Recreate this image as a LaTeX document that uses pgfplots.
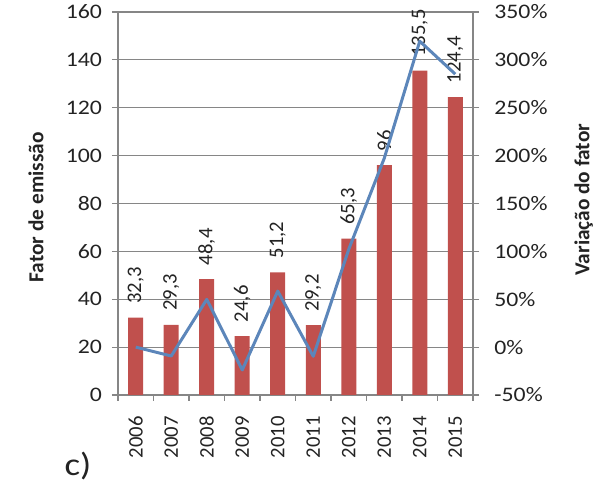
\documentclass[border=0pt]{standalone}
\usepackage{fontspec}
\setmainfont{Carlito}[FakeStretch=1.15]
\newfontfamily\rotfont{Carlito}
\usepackage{pgfplots}
\usepackage{pgfplotstable}
\pgfplotsset{compat=1.18}

\definecolor{barred}{RGB}{192,80,77}
\definecolor{lineblue}{RGB}{92,134,186}
\definecolor{gridgray}{RGB}{134,134,134}
\definecolor{txt}{RGB}{35,35,35}

% emission factor per year and its variation relative to 2006 (%)
\pgfplotstableread{
idx year fator var
0 2006 32.3   0.00
1 2007 29.3  -9.29
2 2008 48.4  49.85
3 2009 24.6 -23.84
4 2010 51.2  58.51
5 2011 29.2  -9.60
6 2012 65.3 102.17
7 2013 96.0 197.21
8 2014 135.5 319.50
9 2015 124.4 285.14
}\data

\newcommand{\tickfont}{\fontsize{15.5}{17}\selectfont}
\newcommand{\rottickfont}{\rotfont\fontsize{15.5}{17}\selectfont}

\begin{document}
\begin{tikzpicture}
\useasboundingbox (-88.5pt,-69.75pt) rectangle (361.5pt,296.25pt);
\pgfplotsset{
  common/.style={
    scale only axis, width=266.25pt, height=287.25pt,
    xmin=-0.5, xmax=9.5,
    tick align=outside,
    major tick length=4.5pt,
    minor tick length=4.5pt,
    every tick/.style={gridgray, line width=0.9pt},
    axis line style={gridgray, line width=0.9pt},
    tick label style={txt},
    /pgf/number format/assume math mode=true,
  }
}
\begin{axis}[
  common,
  ymin=0, ymax=160,
  ytick={0,20,...,160},
  axis x line*=bottom, axis y line*=left,
  ymajorgrids,
  grid style={gridgray, line width=0.9pt},
  xtick={0,...,9},
  xticklabels={2006,2007,2008,2009,2010,2011,2012,2013,2014,2015},
  major x tick style={draw=none},
  minor xtick={-0.5,0.5,...,9.5},
  x tick label style={font=\rottickfont, rotate=90, anchor=east, yshift=0pt},
  xticklabel shift=8pt,
  y tick label style={font=\tickfont},
  yticklabel shift=4pt,
  ylabel={Fator de emissão},
  every axis y label/.style={at={(axis description cs:-0.231,0.49)}, rotate=90, anchor=center,
    font=\rotfont\fontsize{16}{18}\selectfont\bfseries, txt},
]
\addplot[ybar, bar width=11.25pt, fill=barred, draw=none,
  nodes near coords={\pgfmathprintnumber[use comma,fixed,precision=1]{\pgfplotspointmeta}},
  every node near coord/.append style={font=\rottickfont, txt, rotate=90, anchor=west, xshift=7pt},
] table[x=idx, y=fator] {\data};
\end{axis}
\begin{axis}[
  common,
  ymin=-50, ymax=350,
  ytick={-50,0,...,350},
  axis x line=none, axis y line*=right,
  yticklabel={\pgfmathprintnumber{\tick}\%},
  y tick label style={font=\tickfont},
  yticklabel shift=8pt,
  ylabel={Variação do fator},
  every axis y label/.style={at={(axis description cs:1.312,0.51)}, rotate=90, anchor=center,
    font=\rotfont\fontsize{16}{18}\selectfont\bfseries, txt},
]
\addplot[lineblue, line width=2.25pt, line join=round] table[x=idx, y=var] {\data};
\end{axis}
\node[font=\fontsize{24}{26}\selectfont, txt] at (-30pt,-53pt) {c)};
\end{tikzpicture}
\end{document}
